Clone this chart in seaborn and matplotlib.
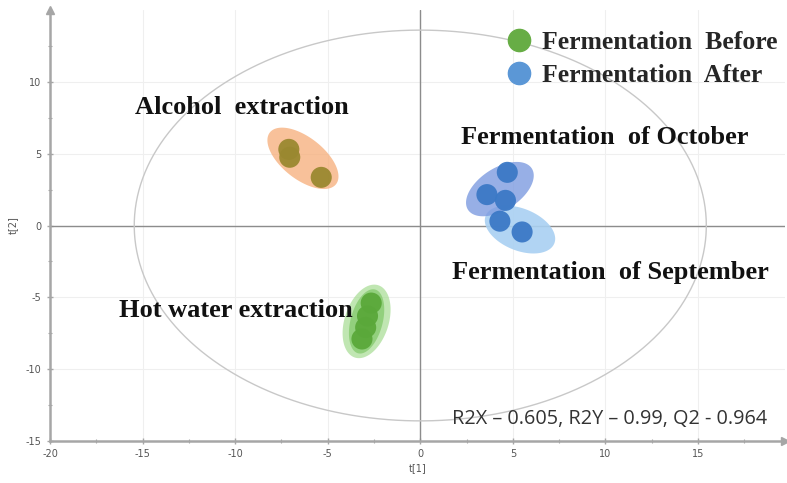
import numpy as np
import pandas as pd
import matplotlib
matplotlib.use("Agg")
import matplotlib.pyplot as plt
from matplotlib.lines import Line2D
import seaborn as sns

# PLS-DA score values (t[1], t[2]) per sample
alcohol_t1 = [-7.1, -7.05, -5.35]
alcohol_t2 = [5.3, 4.75, 3.35]
hotwater_t1 = [-2.65, -2.85, -2.95, -3.15]
hotwater_t2 = [-5.4, -6.3, -7.1, -7.9]
october_t1 = [4.7, 3.6, 4.6]
october_t2 = [3.7, 2.15, 1.75]
september_t1 = [4.3, 5.5]
september_t2 = [0.3, -0.45]

group_names = ["Alcohol  extraction", "Hot water extraction",
               "Fermentation  of October", "Fermentation  of September"]
legend_names = ["Fermentation  Before", "Fermentation  After"]
hotelling_radii = [15.45, 13.6]   # Hotelling T2 ellipse semi-axes (t[1], t[2])
stats_text = "R2X \u2013 0.605, R2Y \u2013 0.99, Q2 - 0.964"

x_ticks = [-20, -15, -10, -5, 0, 5, 10, 15]
y_ticks = [-15, -10, -5, 0, 5, 10]

df = pd.concat([
    pd.DataFrame({"t1": alcohol_t1, "t2": alcohol_t2, "group": group_names[0]}),
    pd.DataFrame({"t1": hotwater_t1, "t2": hotwater_t2, "group": group_names[1]}),
    pd.DataFrame({"t1": october_t1, "t2": october_t2, "group": group_names[2]}),
    pd.DataFrame({"t1": september_t1, "t2": september_t2, "group": group_names[3]}),
], ignore_index=True)

sns.set_theme(style="white")
plt.rcParams["font.family"] = ["DejaVu Sans"]

W, H, DPI = 787, 483, 100
fig = plt.figure(figsize=(W / DPI, H / DPI), dpi=DPI)
ax = fig.add_axes([50 / W, 42 / H, 735 / W, 431 / H])
xlim = (-20, 19.7)
ylim = (-15, 15)
ax.set_xlim(*xlim)
ax.set_ylim(*ylim)

# pixels per data unit, so group shading is shaped in screen space
sx = 735 / (xlim[1] - xlim[0])
sy = 431 / (ylim[1] - ylim[0])


def shade_group(x, y, width_px, height_px, angle_deg, shift_px=(0, 0), **kw):
    cx = np.mean(x) * sx + shift_px[0]
    cy = np.mean(y) * sy + shift_px[1]
    t = np.linspace(0, 2 * np.pi, 200)
    a = np.deg2rad(angle_deg)
    px = width_px / 2 * np.cos(t)
    py = height_px / 2 * np.sin(t)
    ex = cx + px * np.cos(a) - py * np.sin(a)
    ey = cy + px * np.sin(a) + py * np.cos(a)
    ax.fill(ex / sx, ey / sy, lw=0, zorder=2, **kw)


# grid and zero lines
for xt in x_ticks[1:]:
    ax.axvline(xt, color="#efefef", lw=0.8, zorder=0)
for yt in y_ticks[1:]:
    ax.axhline(yt, color="#efefef", lw=0.8, zorder=0)
ax.axvline(0, color="#8c8c8c", lw=1.0, zorder=1)
ax.axhline(0, color="#8c8c8c", lw=1.0, zorder=1)

# Hotelling T2 ellipse
th = np.linspace(0, 2 * np.pi, 400)
ax.plot(hotelling_radii[0] * np.cos(th), hotelling_radii[1] * np.sin(th),
        color="#c8c8c8", lw=1.0, zorder=1)

# group shading
shade_group(alcohol_t1, alcohol_t2, 84, 42, -38, shift_px=(3, 3),
            color="#f6ad78", alpha=0.75)
shade_group(hotwater_t1, hotwater_t2, 76, 44, 72, color="#a6dc92", alpha=0.7)
shade_group(hotwater_t1, hotwater_t2, 66, 32, 75, color="#74c25a", alpha=0.6)
shade_group(september_t1, september_t2, 74, 42, -22, shift_px=(9, -3),
            color="#a9d0f2", alpha=0.9)
shade_group(october_t1, october_t2, 76, 42, 33, color="#7d9be0", alpha=0.8)

palette = {group_names[0]: "#9a8830", group_names[1]: "#5aa83a",
           group_names[2]: "#3b79c6", group_names[3]: "#3b79c6"}
sns.scatterplot(data=df, x="t1", y="t2", hue="group", palette=palette,
                s=230, edgecolor="none", alpha=0.95, legend=False, ax=ax, zorder=3)

# group labels
serif = dict(family="Liberation Serif", weight="bold", fontsize=19, color="#111111")
ax.text(-9.62, 8.22, group_names[0], ha="center", va="center", **serif)
ax.text(-9.95, -5.92, group_names[1], ha="center", va="center", **serif)
ax.text(9.95, 6.13, group_names[2], ha="center", va="center", **serif)
ax.text(10.27, -3.28, group_names[3], ha="center", va="center", **serif)

ax.text(10.2, -13.5, stats_text, ha="center", va="center",
        family="Open Sans", fontsize=14.3, color="#333333")

handles = [Line2D([], [], marker="o", ls="", markersize=16, color="#67ad45"),
           Line2D([], [], marker="o", ls="", markersize=16, color="#5b97d6")]
ax.legend(handles, legend_names, loc="upper left", bbox_to_anchor=(0.593, 0.993),
          frameon=False, handletextpad=0.3, labelspacing=0.4, borderaxespad=0.3,
          handlelength=1.2, prop=dict(family="Liberation Serif", weight="bold", size=18.5))

# axes styling
for side in ["top", "right"]:
    ax.spines[side].set_visible(False)
for side in ["left", "bottom"]:
    ax.spines[side].set_color("#a6a6a6")
    ax.spines[side].set_linewidth(1.8)
ax.plot(1, 0, ">", transform=ax.transAxes, color="#a6a6a6", ms=6, clip_on=False)
ax.plot(0, 1, "^", transform=ax.transAxes, color="#a6a6a6", ms=6, clip_on=False)

ax.set_xticks(x_ticks)
ax.set_yticks(y_ticks)
ax.set_xticks(np.arange(-17.5, 19, 5), minor=True)
ax.set_yticks(np.arange(-12.5, 15, 5), minor=True)
ax.tick_params(which="both", direction="inout", color="#a6a6a6", labelsize=7,
               labelcolor="#555555", bottom=True, left=True)
ax.tick_params(which="major", length=5, width=1)
ax.tick_params(which="minor", length=3, width=0.8)
ax.set_xticklabels([str(t) for t in x_ticks])
ax.set_yticklabels([str(t) for t in y_ticks])
ax.set_xlabel("t[1]", fontsize=7, color="#555555", labelpad=3)
ax.set_ylabel("t[2]", fontsize=7, color="#555555", labelpad=6)

fig.savefig("out.png", dpi=DPI)
